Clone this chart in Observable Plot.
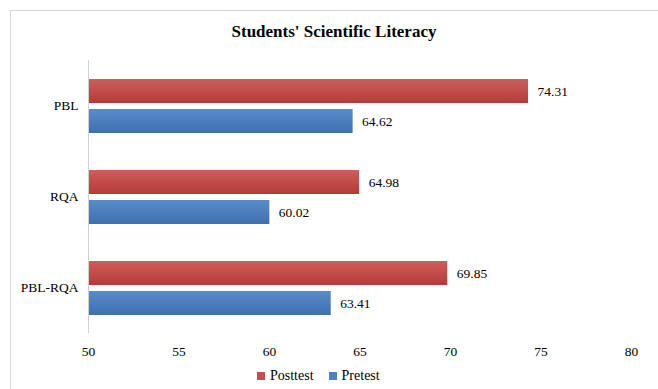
<!DOCTYPE html>
<html>
<head>
<meta charset="utf-8">
<script src="https://cdn.jsdelivr.net/npm/d3@7"></script>
<script src="https://cdn.jsdelivr.net/npm/@observablehq/plot@0.6"></script>
<style>
  html, body { margin: 0; padding: 0; background: #fff; overflow: hidden; }
  #wrap { position: relative; width: 658px; height: 389px; font-family: "Liberation Serif", "DejaVu Serif", serif; }
  #frame { position: absolute; left: 10px; top: 10px; width: 660px; height: 400px; border: 1px solid #d9d9d9; box-sizing: border-box; }
  #title { position: absolute; left: 10px; width: 648px; top: 22px; text-align: center; font-weight: bold; font-size: 17px; color: #000; font-family: "Liberation Serif", serif; }
  #chart { position: absolute; left: 0; top: 0; }
  #chart svg, #chart svg text { font-family: "Liberation Serif", "DejaVu Serif", serif !important; font-size: 13.5px !important; }
  #legend { position: absolute; top: 368px; left: 257px; display: flex; gap: 15px; font-size: 14px; color: #000; font-family: "Liberation Serif", serif; }
  .item { display: flex; align-items: center; gap: 5px; }
  .sw { width: 8px; height: 8px; display: inline-block; }
</style>
</head>
<body>
<div id="wrap">
  <div id="frame"></div>
  <div id="chart"></div>
  <div id="title">Students' Scientific Literacy</div>
  <div id="legend"></div>
</div>
<script>
const groups = ["PBL", "RQA", "PBL-RQA"];
const series = ["Posttest", "Pretest"];
const posttest = [74.31, 64.98, 69.85];
const pretest = [64.62, 60.02, 63.41];
const xTicks = [50, 55, 60, 65, 70, 75, 80];
const colors = ["#C0504D", "#4F81BD"];

const data = [];
groups.forEach((g, i) => {
  data.push({group: g, series: "Posttest", value: posttest[i]});
  data.push({group: g, series: "Pretest", value: pretest[i]});
});

const plot = Plot.plot({
  width: 658,
  height: 389,
  marginLeft: 88,
  marginRight: 27,
  marginTop: 60,
  marginBottom: 56,
  style: {color: "#000", background: "transparent"},
  x: {domain: [50, 80], ticks: xTicks, tickSize: 0, tickPadding: 13, label: null, tickFormat: d => String(d)},
  fy: {domain: groups, padding: 0, axis: "left", tickSize: 0, tickPadding: 10, label: null},
  y: {domain: series, paddingInner: 0.2, paddingOuter: 0.59, axis: null},
  color: {domain: series, range: ["url(#gradRed)", "url(#gradBlue)"]},
  marks: [
    Plot.barX(data, {fy: "group", y: "series", x1: 50, x2: "value", fill: "series"}),
    Plot.text(data, {fy: "group", y: "series", x: "value", text: d => d.value.toFixed(2), textAnchor: "start", dx: 9, fill: "#000"}),
    Plot.ruleX([50], {stroke: "#d0d0d0", strokeWidth: 1})
  ]
});

const svg = d3.select(plot);
const defs = svg.insert("defs", ":first-child");
function grad(id, top, bottom) {
  const g = defs.append("linearGradient").attr("id", id).attr("x1", 0).attr("y1", 0).attr("x2", 0).attr("y2", 1);
  g.append("stop").attr("offset", "0%").attr("stop-color", top);
  g.append("stop").attr("offset", "100%").attr("stop-color", bottom);
}
grad("gradRed", "#CD5F5C", "#B53A37");
grad("gradBlue", "#5A8CCB", "#3E70AF");
const f = defs.append("filter").attr("id", "shadow").attr("x", "-5%").attr("y", "-20%").attr("width", "110%").attr("height", "160%");
f.append("feDropShadow").attr("dx", 1).attr("dy", 2).attr("stdDeviation", 1.2).attr("flood-color", "#000").attr("flood-opacity", 0.35);
svg.selectAll("rect").filter(function() { return this.parentNode.getAttribute("aria-label") === "bar"; }).attr("filter", "url(#shadow)");

document.getElementById("chart").appendChild(plot);

const legend = document.getElementById("legend");
series.forEach((s, i) => {
  const item = document.createElement("div");
  item.className = "item";
  const sw = document.createElement("span");
  sw.className = "sw";
  sw.style.background = colors[i];
  const lab = document.createElement("span");
  lab.textContent = s;
  item.appendChild(sw);
  item.appendChild(lab);
  legend.appendChild(item);
});
</script>
</body>
</html>
